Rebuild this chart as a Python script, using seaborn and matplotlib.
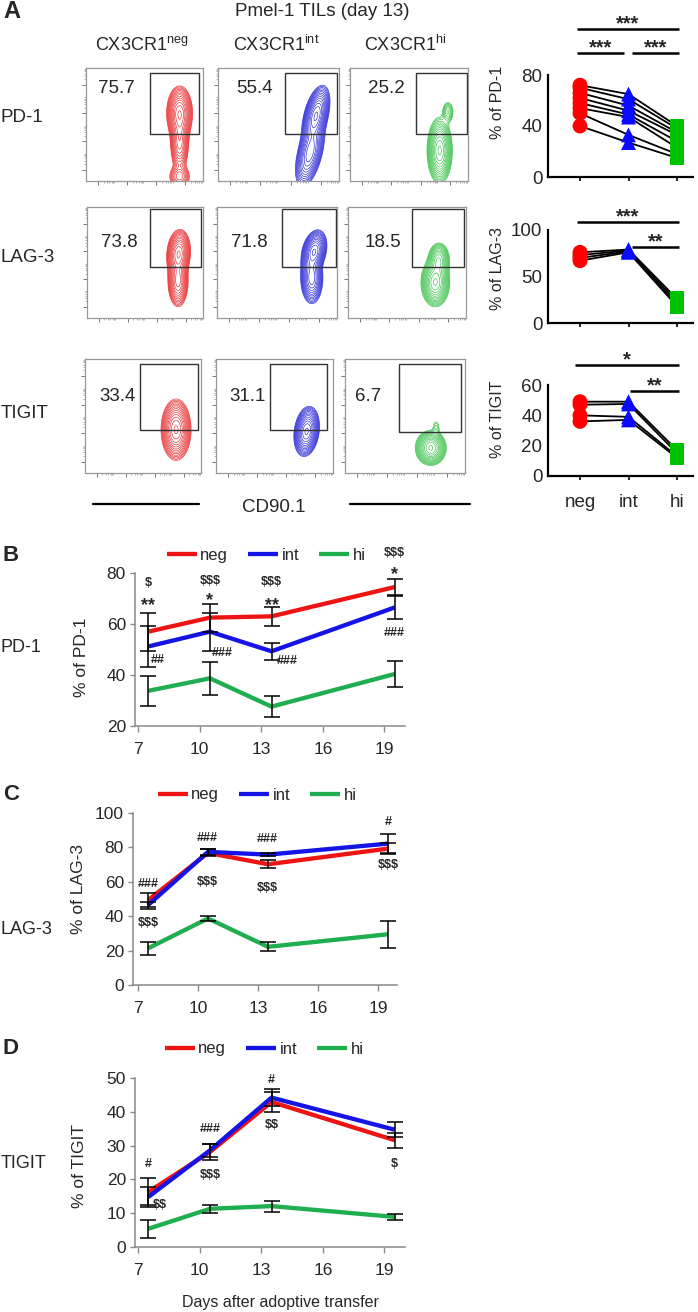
import numpy as np
import pandas as pd
import matplotlib
matplotlib.use('Agg')
import matplotlib.pyplot as plt
from matplotlib.patches import Rectangle
from matplotlib.lines import Line2D
from matplotlib.transforms import ScaledTranslation
import seaborn as sns

# ---------------- data ----------------
subsets = ['neg', 'int', 'hi']
flow_rows = ['PD-1', 'LAG-3', 'TIGIT']
col_titles = [r'CX3CR1$^{\mathrm{neg}}$', r'CX3CR1$^{\mathrm{int}}$', r'CX3CR1$^{\mathrm{hi}}$']
gate_pd1 = [75.7, 55.4, 25.2]
gate_lag3 = [73.8, 71.8, 18.5]
gate_tigit = [33.4, 31.1, 6.7]

pd1_neg = [72, 70, 66, 62, 58, 54, 50, 40]
pd1_int = [65, 61, 56, 52, 49, 47, 33, 27]
pd1_hi = [40, 38, 35, 33, 28, 23, 18, 15]
lag3_neg = [76, 73, 70, 67]
lag3_int = [79, 78, 77, 76]
lag3_hi = [26, 23, 20, 18]
tigit_neg = [49, 47, 40, 36]
tigit_int = [49, 47.5, 39, 37]
tigit_hi = [17, 15, 13, 12]

days = [7, 10, 13, 19]
b_neg = [57.0, 62.5, 63.0, 74.5]
b_neg_sem = [7.5, 5.5, 3.8, 3.2]
b_int = [51.2, 57.0, 49.3, 66.5]
b_int_sem = [8.0, 7.5, 3.3, 4.5]
b_hi = [33.8, 38.7, 27.6, 40.4]
b_hi_sem = [6.0, 6.5, 4.0, 5.0]

c_neg = [49.3, 76.8, 70.2, 79.3]
c_neg_sem = [4.0, 2.0, 2.2, 3.0]
c_int = [46.4, 77.4, 75.8, 82.2]
c_int_sem = [2.0, 1.8, 1.0, 5.5]
c_hi = [21.3, 38.7, 22.2, 29.5]
c_hi_sem = [3.7, 1.3, 2.7, 8.0]

d_neg = [16.3, 28.1, 42.9, 31.6]
d_neg_sem = [4.0, 2.5, 3.0, 2.2]
d_int = [14.8, 28.6, 44.2, 34.7]
d_int_sem = [3.0, 2.0, 2.5, 2.3]
d_hi = [5.4, 11.3, 12.1, 8.9]
d_hi_sem = [2.7, 1.1, 1.6, 1.0]

tick_days = [7, 10, 13, 16, 19]

# ---------------- style ----------------
sns.set_theme(style='white')
SANS = ['Liberation Sans', 'DejaVu Sans']
NARROW = ['Liberation Sans', 'DejaVu Sans']
plt.rcParams['font.family'] = SANS
plt.rcParams['mathtext.fontset'] = 'custom'
plt.rcParams['mathtext.rm'] = 'Liberation Sans'

W, H = 698, 1312
fig = plt.figure(figsize=(W / 100, H / 100), dpi=100)
fig.patch.set_facecolor('white')


def ax_px(x0, y0, x1, y1):
    return fig.add_axes([x0 / W, 1 - y1 / H, (x1 - x0) / W, (y1 - y0) / H])


def ftext(x, y, s, **kw):
    return fig.text(x / W, 1 - y / H, s, **kw)


flow_colors = ['#e8262a', '#2222d6', '#35c046']
line_pal = {'neg': '#ee1414', 'int': '#1414e6', 'hi': '#1fae50'}
pt_pal = {'neg': '#ff0000', 'int': '#0a0aff', 'hi': '#00c200'}

# ---------------- panel A: flow plots ----------------
ftext(3, 12, 'A', fontsize=17, fontweight='bold', va='center', ha='left')
ftext(322, 11, 'Pmel-1 TILs (day 13)', fontsize=13.5, ha='center', va='center')
for cx, t in zip([142, 276, 405], col_titles):
    ftext(cx, 45, t, fontsize=13, ha='center', va='center')

row_px = [(68, 181), (207, 318), (359, 473)]
col_px = [[(86, 203), (218, 339), (350, 468)],
          [(87, 203), (217, 337), (348, 466)],
          [(85, 201), (216, 333), (345, 465)]]
gates = [[(0.55, 0.97, 0.42, 0.96), (0.55, 0.98, 0.42, 0.96), (0.56, 0.99, 0.42, 0.96)],
         [(0.54, 0.98, 0.46, 0.98), (0.54, 0.99, 0.46, 0.98), (0.54, 0.98, 0.46, 0.98)],
         [(0.47, 0.97, 0.38, 0.96), (0.46, 0.95, 0.38, 0.96), (0.45, 0.97, 0.36, 0.955)]]
num_pos = [[(0.26, 0.82), (0.30, 0.82), (0.31, 0.82)],
           [(0.28, 0.68), (0.27, 0.68), (0.30, 0.68)],
           [(0.28, 0.67), (0.27, 0.67), (0.19, 0.67)]]
# contour shapes (cx, cy, sx, sy, weight, tilt) in axes fractions
blobs = [
    [[(0.80, 0.60, 0.046, 0.10, 1.0, 0.0), (0.80, 0.35, 0.035, 0.12, 0.6, 0.0), (0.80, 0.04, 0.045, 0.05, 0.3, 0.0)],
     [(0.81, 0.58, 0.042, 0.11, 1.0, 0.2), (0.76, 0.25, 0.045, 0.13, 0.75, 0.2)],
     [(0.76, 0.27, 0.044, 0.12, 1.0, 0.0), (0.83, 0.61, 0.025, 0.05, 0.2, 0.0)]],
    [[(0.79, 0.58, 0.042, 0.09, 1.0, 0.05), (0.785, 0.33, 0.038, 0.10, 0.7, 0.0)],
     [(0.81, 0.60, 0.042, 0.08, 1.0, 0.15), (0.79, 0.36, 0.04, 0.10, 0.75, 0.0)],
     [(0.74, 0.32, 0.05, 0.09, 1.0, 0.0), (0.77, 0.52, 0.04, 0.07, 0.6, 0.0)]],
    [[(0.785, 0.38, 0.053, 0.11, 1.0, 0.0)],
     [(0.775, 0.365, 0.044, 0.09, 1.0, 0.1)],
     [(0.715, 0.22, 0.053, 0.063, 1.0, 0.0), (0.76, 0.40, 0.02, 0.05, 0.08, 0.0)]],
]
gate_vals = [gate_pd1, gate_lag3, gate_tigit]
gx, gy = np.meshgrid(np.linspace(0, 1, 240), np.linspace(0, 1, 240))
for r in range(3):
    y0, y1 = row_px[r]
    for c in range(3):
        x0, x1 = col_px[r][c]
        ax = ax_px(x0, y0, x1, y1)
        ax.set_xlim(0, 1)
        ax.set_ylim(0, 1)
        z = np.zeros_like(gx)
        for (bx, by, sx, sy, w, tilt) in blobs[r][c]:
            cxs = bx + tilt * (gy - by)
            z += w * np.exp(-0.5 * (((gx - cxs) / sx) ** 2 + ((gy - by) / sy) ** 2))
        lv = np.geomspace(0.05, 0.95, 14) * z.max()
        ax.contour(gx, gy, z, levels=lv, colors=flow_colors[c], linewidths=0.45)
        gx0, gx1, gy0, gy1 = gates[r][c]
        ax.add_patch(Rectangle((gx0, gy0), gx1 - gx0, gy1 - gy0, fill=False,
                               edgecolor='#333333', lw=1.0, zorder=5))
        nx, ny = num_pos[r][c]
        ax.text(nx, ny, f'{gate_vals[r][c]:g}', fontsize=13.5, ha='center', va='center')
        for s in ax.spines.values():
            s.set_color('#999999')
            s.set_linewidth(0.9)
        maj = [0.1, 0.35, 0.6, 0.85]
        mnr = [m + d for m in maj for d in (0.05, 0.08, 0.1, 0.12, 0.13, 0.14) if m + d < 1]
        ax.set_xticks(maj)
        ax.set_yticks(maj)
        ax.set_xticks(mnr, minor=True)
        ax.set_yticks(mnr, minor=True)
        ax.set_xticklabels([])
        ax.set_yticklabels([])
        ax.tick_params(which='major', length=3, width=0.7, color='#777777', direction='out',
                       bottom=True, left=True)
        ax.tick_params(which='minor', length=1.6, width=0.5, color='#999999', direction='out',
                       bottom=True, left=True)

for lbl, yy in zip(flow_rows, [118, 258, 414]):
    ftext(1, yy, lbl, fontsize=13.5, ha='left', va='center')

ftext(274, 508, 'CD90.1', fontsize=13.5, ha='center', va='center')
fig.add_artist(Line2D([93 / W, 199 / W], [1 - 504 / H] * 2, color='black', lw=1.6))
fig.add_artist(Line2D([350 / W, 470 / W], [1 - 504 / H] * 2, color='black', lw=1.6))

# ---------------- panel A: paired scatter ----------------
marker_map = {'neg': 'o', 'int': '^', 'hi': 's'}


def paired(box, neg, intv, hi, ylim, yticks, ylab, ylab_y, sigs, show_x):
    ax = ax_px(*box)
    n = len(neg)
    df = pd.DataFrame({
        'mouse': list(range(n)) * 3,
        'subset': ['neg'] * n + ['int'] * n + ['hi'] * n,
        'value': list(neg) + list(intv) + list(hi),
    })
    df['pos'] = df['subset'].map({s: i for i, s in enumerate(subsets)})
    sns.lineplot(data=df, x='pos', y='value', units='mouse', estimator=None,
                 color='black', lw=1.3, ax=ax, legend=False, zorder=1)
    sns.scatterplot(data=df, x='pos', y='value', hue='subset', style='subset',
                    hue_order=subsets, style_order=subsets, palette=pt_pal,
                    markers=marker_map, s=115, edgecolor='none', ax=ax,
                    legend=False, zorder=3)
    ax.set_xlim(-0.66, 2.33)
    ax.set_ylim(*ylim)
    ax.set_yticks(yticks)
    ax.set_yticklabels([f'{t:g}' for t in yticks], fontsize=13.5)
    ax.set_xticks([0, 1, 2])
    ax.set_xticklabels(subsets if show_x else [], fontsize=13.5)
    ax.set_xlabel('')
    ax.set_ylabel(ylab, fontsize=11.5, va='center')
    ax.yaxis.set_label_coords(-(548 - 498) / (693 - 548), ylab_y)
    for s in ['top', 'right']:
        ax.spines[s].set_visible(False)
    for s in ['left', 'bottom']:
        ax.spines[s].set_color('black')
        ax.spines[s].set_linewidth(1.6)
    ax.tick_params(axis='x', length=3, width=1.2, color='black', direction='out',
                   bottom=True, pad=10)
    ax.tick_params(axis='y', length=0, pad=4)
    for (a, b, yv, txt) in sigs:
        ax.plot([a, b], [yv, yv], color='black', lw=1.8, clip_on=False, solid_capstyle='butt')
        ax.annotate(txt, ((a + b) / 2, yv), xytext=(0, -3), textcoords='offset points',
                    ha='center', va='bottom', fontsize=14.5, fontweight='bold',
                    annotation_clip=False)
    return ax


paired((548, 75, 693, 177), pd1_neg, pd1_int, pd1_hi, (0, 80), [0, 40, 80], '% of PD-1', 0.73,
       [(-0.07, 2.04, 116, '***'), (-0.07, 0.9, 97, '***'), (1.07, 2.04, 97, '***')], False)
paired((548, 230, 693, 323), lag3_neg, lag3_int, lag3_hi, (0, 100), [0, 50, 100], '% of LAG-3', 0.59,
       [(-0.07, 2.04, 108.5, '***'), (1.07, 2.04, 81.5, '**')], False)
paired((548, 385, 693, 476), tigit_neg, tigit_int, tigit_hi, (0, 60), [0, 20, 40, 60], '% of TIGIT', 0.62,
       [(-0.1, 2.04, 73, '*'), (1.03, 2.04, 56, '**')], True)

# ---------------- panels B-D: time courses ----------------


def timecourse(box, xlim, ylim, yticks, ylab, ylab_x, ylab_y, series, annots,
               leg_x, leg_y, letter_y, row_label, row_y):
    ax = ax_px(*box)
    rows = []
    for sub, (m, e) in zip(subsets, series):
        for d, mv, ev in zip(days, m, e):
            rows.append({'day': d, 'x': d + 0.5, 'subset': sub, 'mean': mv, 'sem': ev})
    df = pd.DataFrame(rows)
    sns.lineplot(data=df, x='x', y='mean', hue='subset', hue_order=subsets,
                 palette=line_pal, lw=3.1, ax=ax, legend=False, sort=True,
                 solid_capstyle='butt')
    for sub in subsets:
        dd = df[df['subset'] == sub]
        ax.errorbar(dd['x'], dd['mean'], yerr=dd['sem'], fmt='none', ecolor='black',
                    elinewidth=1.1, capsize=5.5, capthick=1.1, zorder=5)
    ax.set_xlim(*xlim)
    ax.set_ylim(*ylim)
    ax.set_xticks(tick_days)
    ax.set_xticklabels([str(t) for t in tick_days], fontsize=12.5, family=NARROW)
    off = ScaledTranslation(9 / 100, 0, fig.dpi_scale_trans)
    for lab in ax.get_xticklabels():
        lab.set_transform(lab.get_transform() + off)
    ax.set_yticks(yticks)
    ax.set_yticklabels([str(t) for t in yticks], fontsize=12.5, family=NARROW)
    ax.set_xlabel('')
    ax.set_ylabel(ylab, fontsize=12.5, va='center')
    ax.yaxis.set_label_coords(ylab_x, ylab_y)
    for s in ['top', 'right']:
        ax.spines[s].set_visible(False)
    for s in ['left', 'bottom']:
        ax.spines[s].set_color('#8a8a8a')
        ax.spines[s].set_linewidth(1.1)
    ax.tick_params(axis='x', length=4.5, width=1.0, color='#8a8a8a', direction='out',
                   bottom=True, pad=7)
    ax.tick_params(axis='y', length=3.5, width=1.0, color='#8a8a8a', direction='out',
                   left=True, pad=3)
    for (xv, yv, txt) in annots:
        star = '*' in txt
        ax.annotate(txt.replace('$', r'\$'), (xv, yv), xytext=(0, -4 if star else 0),
                    textcoords='offset points',
                    ha='center', va='center', fontsize=13 if star else 9,
                    fontweight='bold', family=NARROW, annotation_clip=False, zorder=6)
    handles = [Line2D([], [], color=line_pal[s], lw=3.1, solid_capstyle='butt') for s in subsets]
    ax.legend(handles, subsets, ncol=3, loc='center left',
              bbox_to_anchor=(leg_x / W, 1 - leg_y / H), bbox_transform=fig.transFigure,
              frameon=False, handlelength=1.8, handletextpad=0.2, columnspacing=1.2,
              borderpad=0, borderaxespad=0, prop={'family': NARROW, 'size': 12})
    ftext(3, letter_y, row_label[0], fontsize=16, fontweight='bold', ha='left', va='center')
    ftext(1, row_y, row_label[1], fontsize=13, ha='left', va='center')
    return ax


b_annots = [(7.5, 76, '$'), (7.5, 69.5, '**'), (7.95, 46, '##'),
            (10.5, 77, '$$$'), (10.5, 71.5, '*'), (11.1, 48.5, '###'),
            (13.5, 76.5, '$$$'), (13.5, 69.5, '**'), (14.25, 45.3, '###'),
            (19.5, 88, '$$$'), (19.5, 81.5, '*'), (19.5, 56.5, '###')]
c_annots = [(7.5, 59, '###'), (7.5, 35.8, '$$$'),
            (10.45, 85.7, '###'), (10.45, 60, '$$$'),
            (13.45, 85.1, '###'), (13.45, 56.5, '$$$'),
            (19.5, 94.8, '#'), (19.5, 69.6, '$$$')]
d_annots = [(7.5, 24.7, '#'), (8.07, 12.3, '$$'),
            (10.5, 35, '###'), (10.5, 21.2, '$$$'),
            (13.5, 49.5, '#'), (13.5, 36, '$$'),
            (19.5, 24.7, '$')]

timecourse((135, 573, 405, 726), (6.85, 20.0), (20, 80), [20, 40, 60, 80], '% of PD-1',
           (82 - 135) / 270, 0.45,
           [(b_neg, b_neg_sem), (b_int, b_int_sem), (b_hi, b_hi_sem)], b_annots,
           167, 555, 555, ('B', 'PD-1'), 647)
timecourse((133, 813, 397, 985), (6.75, 19.95), (0, 100), [0, 20, 40, 60, 80, 100], '% of LAG-3',
           (79 - 133) / 264, 0.56,
           [(c_neg, c_neg_sem), (c_int, c_int_sem), (c_hi, c_hi_sem)], c_annots,
           158, 795, 795, ('C', 'LAG-3'), 929)
axd = timecourse((135, 1078, 405, 1247), (6.85, 20.0), (0, 50), [0, 10, 20, 30, 40, 50], '% of TIGIT',
                 (79 - 135) / 270, 0.48,
                 [(d_neg, d_neg_sem), (d_int, d_int_sem), (d_hi, d_hi_sem)], d_annots,
                 165, 1049, 1049, ('D', 'TIGIT'), 1163)
ftext(280, 1303, 'Days after adoptive transfer', fontsize=11.5, ha='center', va='center', family=NARROW)

fig.savefig('out.png', dpi=100, facecolor='white')
